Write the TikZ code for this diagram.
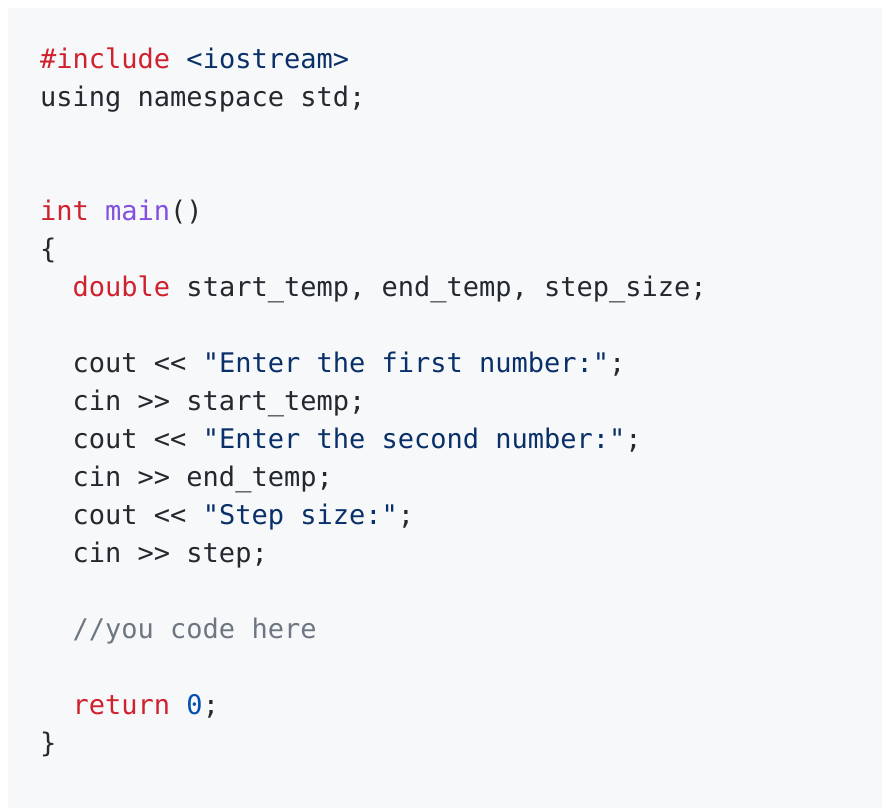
\documentclass[tikz,border=0pt]{standalone}
\usepackage{fontspec}
\newfontfamily\code{DejaVu Sans Mono}
\definecolor{bgc}{HTML}{F6F8FA}
\definecolor{txt}{HTML}{24292F}
\definecolor{kw}{HTML}{CF222E}
\definecolor{str}{HTML}{0A3069}
\definecolor{fn}{HTML}{8250DF}
\definecolor{cm}{HTML}{6E7781}
\definecolor{num}{HTML}{0550AE}
\begin{document}
\begin{tikzpicture}[x=1pt,y=-1pt,
  ln/.style={anchor=base west,inner sep=0pt,font=\code\fontsize{27}{38}\selectfont,text=txt}]
\useasboundingbox (0,0) rectangle (882,808);
\fill[white] (0,0) rectangle (882,808);
\fill[bgc] (8,8) rectangle (882,808);
\node[ln] (l1) at (40,68) {\textcolor{kw}{\#include} \textcolor{str}{<iostream>}};
\node[ln] (l2) at (40,106) {using namespace std;};
\node[ln] (l3) at (40,220) {\textcolor{kw}{int} \textcolor{fn}{main}()};
\node[ln] (l4) at (40,258) {\{};
\node[ln] (l5) at (40,296) {\ \ \textcolor{kw}{double} start\_temp, end\_temp, step\_size;};
\node[ln] (l6) at (40,372) {\ \ cout << \textcolor{str}{"Enter the first number:"};};
\node[ln] (l7) at (40,410) {\ \ cin >> start\_temp;};
\node[ln] (l8) at (40,448) {\ \ cout << \textcolor{str}{"Enter the second number:"};};
\node[ln] (l9) at (40,486) {\ \ cin >> end\_temp;};
\node[ln] (l10) at (40,524) {\ \ cout << \textcolor{str}{"Step size:"};};
\node[ln] (l11) at (40,562) {\ \ cin >> step;};
\node[ln] (l12) at (40,638) {\ \ \textcolor{cm}{//you code here}};
\node[ln] (l13) at (40,714) {\ \ \textcolor{kw}{return} \textcolor{num}{0};};
\node[ln] (l14) at (40,752) {\}};
\end{tikzpicture}
\end{document}
